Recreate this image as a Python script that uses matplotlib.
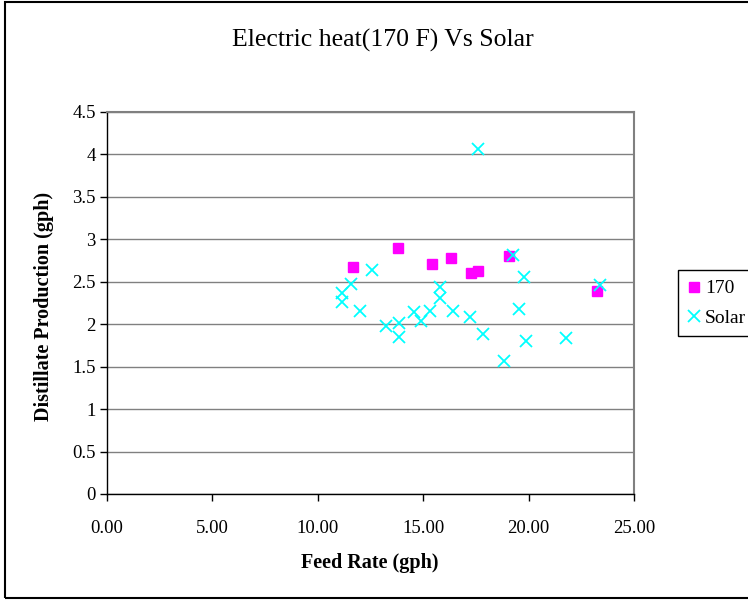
import matplotlib
matplotlib.use('Agg')
import matplotlib.pyplot as plt
from matplotlib.patches import Rectangle

plt.rcParams['font.family'] = ['Liberation Serif', 'DejaVu Serif']

# data
feed_170 = [11.65, 13.82, 15.42, 16.30, 17.25, 17.58, 19.09, 23.24]
prod_170 = [2.67, 2.90, 2.71, 2.78, 2.60, 2.63, 2.80, 2.39]

feed_solar = [17.62, 19.27, 19.78, 12.59, 11.56, 11.13, 11.13, 12.02,
              13.24, 13.87, 13.87, 14.58, 14.90, 15.31, 15.80, 15.80,
              16.41, 17.22, 17.85, 18.82, 19.53, 19.86, 21.77, 23.37]
prod_solar = [4.07, 2.82, 2.56, 2.64, 2.47, 2.37, 2.26, 2.16,
              1.98, 2.01, 1.85, 2.14, 2.04, 2.16, 2.44, 2.31,
              2.16, 2.08, 1.89, 1.57, 2.18, 1.80, 1.84, 2.46]

x_ticks = [0, 5, 10, 15, 20, 25]
y_ticks = [0, 0.5, 1, 1.5, 2, 2.5, 3, 3.5, 4, 4.5]

fig = plt.figure(figsize=(7.48, 6), dpi=100)
ax = fig.add_axes([107/748, 1 - 494/600, (634 - 107)/748, (494 - 112)/600])

# outer chart border
fig.patches.append(Rectangle((5/748, 2/600), 1.0, 596/600, transform=fig.transFigure,
                             fill=False, edgecolor='black', linewidth=1.5))

ax.plot(feed_170, prod_170, linestyle='none', marker='s', ms=6.5,
        color='#ff00ff', label='170', zorder=3)
ax.plot(feed_solar, prod_solar, linestyle='none', marker='x', ms=8, mew=1.3,
        color='#00ffff', label='Solar', zorder=4)

ax.set_xlim(0, 25)
ax.set_ylim(0, 4.5)
ax.set_xticks(x_ticks)
ax.set_xticklabels(['%.2f' % v for v in x_ticks])
ax.set_yticks(y_ticks)
ax.set_yticklabels(['%g' % v for v in y_ticks])
ax.tick_params(labelsize=13.5, direction='out', length=5, width=1, color='black', pad=3)
ax.tick_params(axis='x', pad=14)

ax.grid(axis='y', color='#808080', linewidth=1)
ax.set_axisbelow(True)
for side in ['top', 'right']:
    ax.spines[side].set_color('#808080')
    ax.spines[side].set_linewidth(1.5)
for side in ['left', 'bottom']:
    ax.spines[side].set_color('black')
    ax.spines[side].set_linewidth(1)

fig.text(383/748, 1 - 40/600, 'Electric heat(170 F) Vs Solar', fontsize=18.5,
         ha='center', va='center')
fig.text(44/748, 1 - 306/600, 'Distillate Production (gph)', fontsize=14.5,
         fontweight='bold', rotation=90, ha='center', va='center')
fig.text(370/748, 1 - 563/600, 'Feed Rate (gph)', fontsize=14.5,
         fontweight='bold', ha='center', va='center')

leg = ax.legend(loc='upper left', bbox_to_anchor=(678/748, 1 - 270/600),
                bbox_transform=fig.transFigure, borderaxespad=0, fontsize=14,
                fancybox=False, edgecolor='black', framealpha=1,
                handlelength=0.6, handletextpad=0.3, labelspacing=0.6,
                borderpad=0.5)
leg.get_frame().set_linewidth(1)

fig.savefig('out.png', dpi=100)
